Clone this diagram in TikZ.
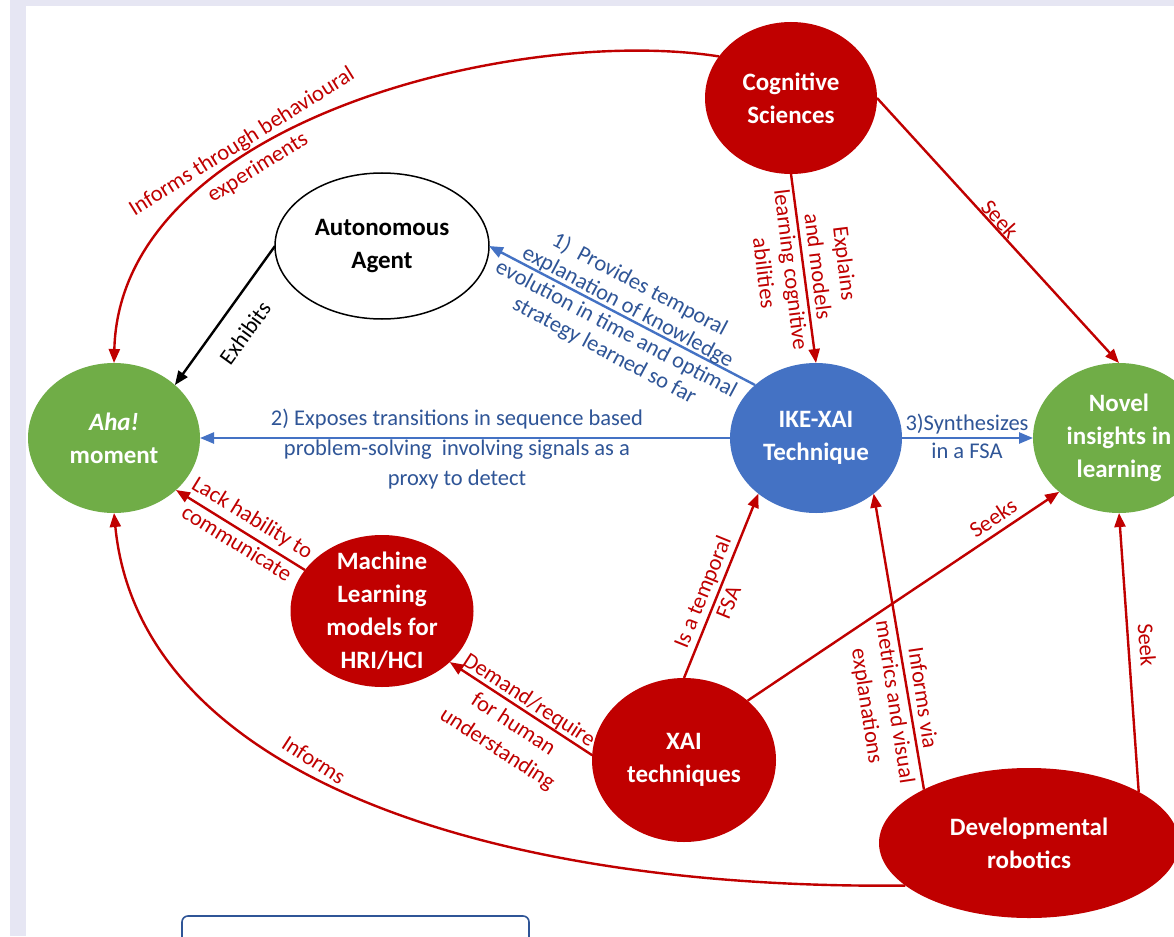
\documentclass[tikz,border=0pt]{standalone}
\usepackage{fontspec}
\setmainfont{Carlito}
\usetikzlibrary{shapes.geometric,arrows.meta}
\definecolor{cred}{RGB}{192,0,0}
\definecolor{cblue}{RGB}{68,114,196}
\definecolor{cbluetxt}{RGB}{47,85,151}
\definecolor{cgreen}{RGB}{112,173,71}
\definecolor{lav}{RGB}{230,230,243}
\definecolor{rectblue}{RGB}{47,85,151}
\begin{document}
\begin{tikzpicture}[x=1pt,y=1pt,
  bub/.style={ellipse, inner sep=0pt, outer sep=0pt},
  bubtext/.style={font=\fontsize{25}{33}\selectfont\bfseries, text=white, align=center},
  lbl/.style={align=center, inner sep=0pt, font=\fontsize{22.5}{28}\selectfont},
  redlbl/.style={lbl, text=cred},
  bluelbl/.style={lbl, text=cbluetxt},
  redarr/.style={draw=cred, line width=2.4pt, -{Triangle[length=14pt,width=11pt]}},
  bluearr/.style={draw=cblue, line width=2.4pt, -{Triangle[length=14pt,width=11pt]}},
  blackarr/.style={draw=black, line width=2.4pt, -{Triangle[length=14pt,width=11pt]}}
]
\useasboundingbox (0,0) rectangle (1174,-936);
\clip (0,0) rectangle (1174,-936);
\fill[white] (0,0) rectangle (1174,-936);
\fill[lav] (10,0) rectangle (26,-936);
\fill[lav] (10,0) rectangle (1174,-6);

% nodes
\node[bub, fill=cred, minimum width=172, minimum height=152,
  label={[bubtext]center:Cognitive\\Sciences}] (cog) at (791,-98) {};
\node[bub, fill=white, draw=black, line width=1.5pt, minimum width=214, minimum height=146,
  label={[bubtext, text=black]center:Autonomous\\Agent}] (agent) at (382,-246) {};
\node[bub, fill=cgreen, minimum width=172, minimum height=150,
  label={[bubtext]center:\textit{Aha!}\\moment}] (aha) at (114,-438) {};
\node[bub, fill=cblue, minimum width=172, minimum height=150,
  label={[bubtext]center:IKE-XAI\\Technique}] (ike) at (816,-438) {};
\node[bub, fill=cgreen, minimum width=172, minimum height=150,
  label={[bubtext]center:Novel\\insights in\\learning}] (novel) at (1119,-438) {};
\node[bub, fill=cred, minimum width=183, minimum height=152,
  label={[bubtext]center:Machine\\Learning\\models for\\HRI/HCI}] (ml) at (382,-611) {};
\node[bub, fill=cred, minimum width=184, minimum height=164,
  label={[bubtext]center:XAI\\techniques}] (xai) at (684,-760) {};
\node[bub, fill=cred, minimum width=300, minimum height=150,
  label={[bubtext]center:Developmental\\robotics}] (dev) at (1029,-843) {};

% bottom frame
\draw[rectblue, line width=1.6pt, rounded corners=6pt] (182,-916) rectangle (529,-990);

% connectors
\draw[redarr] (cog.150) .. controls (520,-25) and (120,-120) .. (aha.north);
\draw[blackarr] (agent.west) -- (aha.41);
\draw[bluearr] (ike.139) -- (agent.east);
\draw[bluearr] (ike.west) -- (aha.east);
\draw[bluearr] (ike.east) -- (novel.west);
\draw[redarr] (cog.south) -- (ike.north);
\draw[redarr] (cog.east) -- (novel.north);
\draw[redarr] (xai.north) -- (ike.224);
\draw[redarr] (xai.43) -- (novel.222);
\draw[redarr] (dev.153) -- (ike.316);
\draw[redarr] (dev.25) -- (novel.south);
\draw[redarr] (dev.199) .. controls (500,-890) and (140,-780) .. (aha.south);
\draw[redarr] (xai.177) -- (ml.-37);
\draw[redarr] (ml.152) -- (aha.-40);

% labels
\node[redlbl, rotate=32, font=\fontsize{22.5}{30}\selectfont] (l1) at (250,-155) {Informs through behavioural\\experiments};
\node[lbl, rotate=54] (l2) at (245,-333) {Exhibits};
\node[bluelbl, rotate=-28, font=\fontsize{22.5}{25}\selectfont] (l3) at (622,-318) {1)\ \ Provides temporal\\explanation of knowledge\\evolution in time and optimal\\strategy learned so far};
\node[bluelbl, font=\fontsize{22.5}{30}\selectfont] (l4) at (457,-449) {2) Exposes transitions in sequence based\\problem-solving\ \ involving signals as a\\proxy to detect};
\node[bluelbl] (l5) at (967,-436) {3)Synthesizes\\in a FSA};
\node[redlbl, rotate=-83, font=\fontsize{22.5}{27}\selectfont] (l6) at (805,-268) {Explains\\and models\\learning cognitive\\abilities};
\node[redlbl, rotate=-47.7] (l7) at (1000,-219) {Seek};
\node[redlbl, rotate=68] (l8) at (715,-597) {Is a temporal\\FSA};
\node[redlbl, rotate=33.8] (l9) at (993,-518) {Seeks};
\node[redlbl, rotate=-81.4] (l10) at (894,-702) {Informs via\\metrics and visual\\explanations};
\node[redlbl, rotate=-85.5] (l11) at (1147,-645) {Seek};
\node[redlbl, rotate=-33] (l12) at (314,-760) {Informs};
\node[redlbl, rotate=-33, font=\fontsize{22.5}{29}\selectfont] (l13) at (513,-725) {Demand/require\\for human\\understanding};
\node[redlbl, rotate=-31.5, font=\fontsize{22.5}{30}\selectfont] (l14) at (245,-530) {Lack hability to\\communicate};
\end{tikzpicture}
\end{document}
